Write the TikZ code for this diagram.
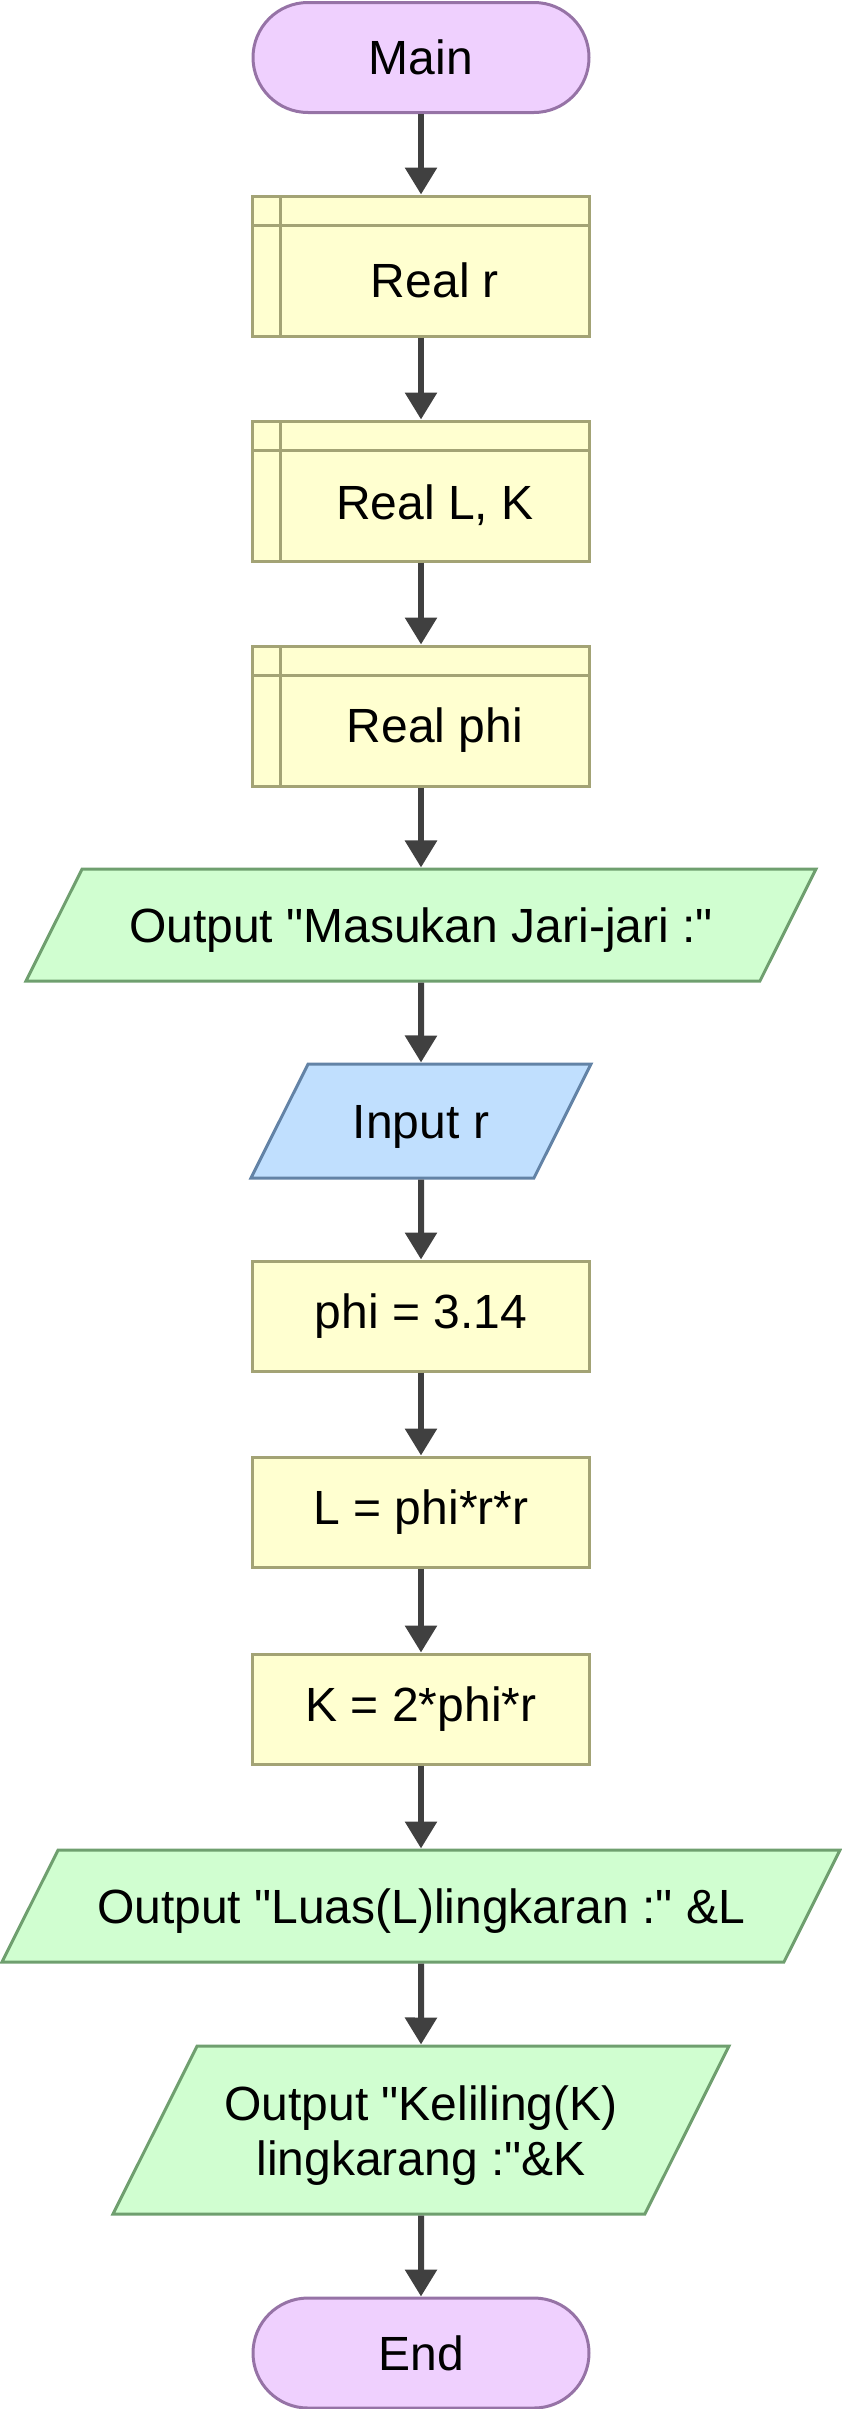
\documentclass[tikz,border=0pt]{standalone}
\usepackage{fontspec}
\setmainfont{Liberation Sans}[Ligatures=TeXOff]
\usepackage{xcolor}
\usetikzlibrary{shapes,arrows.meta,positioning}

\definecolor{termfill}{HTML}{EFD0FE}
\definecolor{termline}{HTML}{9673A6}
\definecolor{procfill}{HTML}{FFFFD0}
\definecolor{procline}{HTML}{A3A375}
\definecolor{outfill}{HTML}{D0FED0}
\definecolor{outborder}{HTML}{6F9F6F}
\definecolor{infill}{HTML}{C0DFFE}
\definecolor{inborder}{HTML}{6383A6}
\definecolor{flowline}{HTML}{404040}

\begin{document}
\begin{tikzpicture}[x=1pt, y=-1pt,
    every node/.style={font=\fontsize{48}{55}\selectfont, align=center, inner sep=0pt},
    terminal/.style={draw=termline, fill=termfill, line width=3pt, rounded corners=55pt,
        minimum width=336pt, minimum height=110pt},
    process/.style={draw=procline, fill=procfill, line width=3pt,
        minimum width=337pt, minimum height=110pt},
    declbox/.style={process, minimum height=140pt,
        path picture={
            \draw[procline, line width=3pt]
                ([xshift=28pt]path picture bounding box.north west) -- ([xshift=28pt]path picture bounding box.south west)
                ([yshift=-29pt]path picture bounding box.north west) -- ([yshift=-29pt]path picture bounding box.north east);
        },
        label={[xshift=14pt, yshift=-14.5pt]center:#1}},
    io/.style={trapezium, trapezium left angle=63.4, trapezium right angle=116.6,
        trapezium stretches body, line width=3pt, text height=73pt, text depth=39pt},
    output/.style={io, draw=outborder, fill=outfill},
    input/.style={io, draw=inborder, fill=infill, text height=74pt, text depth=40pt},
    flow/.style={draw=flowline, line width=6pt, -{Triangle[width=31pt,length=27pt]}}
]
    \useasboundingbox (0,0) rectangle (841,2409);

    % Start and declarations
    \node[terminal] (main) at (421,57.5) {Main};
    \node[declbox=Real r] (realr) at (421,266) {};
    \node[declbox={Real L, K}] (reallk) at (421,491) {};
    \node[declbox=Real phi] (realphi) at (421,716) {};

    % Read the radius
    \node[output, minimum width=790pt] (askr) at (421,925) {Output "Masukan Jari-jari :"};
    \node[input, minimum width=340pt] (inr) at (421,1121) {Input r};

    % Compute area and circumference
    \node[process] (setphi) at (421,1316) {phi = 3.14};
    \node[process] (calcl) at (421,1512) {L = phi*r*r};
    \node[process] (calck) at (421,1709) {K = 2*phi*r};

    % Print results
    \node[output, minimum width=838pt] (outl) at (421,1906) {Output "Luas(L)lingkaran :" \&L};
    \node[output, minimum width=616pt, text height=129pt, text depth=39pt] (outk) at (421,2130)
        {Output "Keliling(K)\\lingkarang :"\&K};
    \node[terminal] (stop) at (421,2353) {End};

    \foreach \a/\b in {main/realr, realr/reallk, reallk/realphi, realphi/askr, askr/inr,
                       inr/setphi, setphi/calcl, calcl/calck, calck/outl, outl/outk, outk/stop} {
        \draw[flow] (\a) -- (\b);
    }
\end{tikzpicture}
\end{document}
